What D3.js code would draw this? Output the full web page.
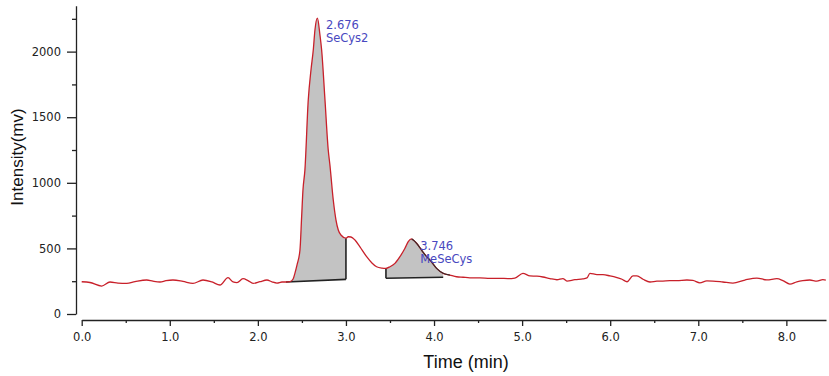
<!DOCTYPE html>
<html>
<head>
<meta charset="utf-8">
<script src="https://cdn.jsdelivr.net/npm/d3@7"></script>
<style>
  body { margin: 0; background: #fff; }
  svg { display: block; }
</style>
</head>
<body>
<div id="chart"></div>
<script>
// Chromatogram trace (time in min, intensity in mV)
const timeMin = [
  0.000, 0.094, 0.227, 0.321, 0.412, 0.511, 0.605, 0.738, 0.809, 0.889,
  0.957, 1.036, 1.150, 1.263, 1.377, 1.479, 1.570, 1.661, 1.718, 1.763,
  1.831, 1.888, 1.945, 2.024, 2.103, 2.160, 2.217, 2.274, 2.319, 2.364,
  2.400, 2.421, 2.444, 2.478, 2.497, 2.512, 2.534, 2.572, 2.603, 2.629,
  2.648, 2.676, 2.705, 2.724, 2.762, 2.799, 2.818, 2.856, 2.887, 2.913,
  2.943, 3.000, 3.026, 3.057, 3.102, 3.159, 3.235, 3.295, 3.348, 3.409,
  3.454, 3.499, 3.556, 3.613, 3.670, 3.707, 3.746, 3.764, 3.802, 3.840,
  3.877, 3.916, 3.953, 4.029, 4.104, 4.180, 4.256, 4.330, 4.407, 4.521,
  4.634, 4.748, 4.839, 4.918, 5.009, 5.089, 5.168, 5.236, 5.316, 5.395,
  5.463, 5.509, 5.599, 5.690, 5.736, 5.770, 5.850, 5.918, 5.998, 6.077,
  6.134, 6.191, 6.258, 6.304, 6.372, 6.452, 6.531, 6.598, 6.678, 6.757,
  6.871, 6.939, 7.018, 7.097, 7.166, 7.279, 7.393, 7.529, 7.665, 7.779,
  7.892, 7.960, 8.040, 8.119, 8.187, 8.266, 8.346, 8.414, 8.448
];
const intensity = [
  246, 240, 213, 244, 236, 233, 246, 259, 250, 244,
  254, 259, 248, 233, 259, 244, 221, 277, 244, 239,
  269, 255, 233, 246, 259, 245, 236, 244, 244, 246,
  267, 312, 373, 488, 742, 945, 1097, 1631, 1860, 2012,
  2165, 2255, 2126, 2012, 1631, 1250, 1136, 869, 716, 640,
  602, 578, 589, 587, 564, 511, 437, 389, 360, 350,
  348, 360, 386, 437, 501, 551, 572, 564, 539, 505,
  470, 437, 412, 348, 310, 297, 284, 280, 276, 276,
  272, 272, 270, 274, 310, 290, 288, 282, 270, 261,
  270, 251, 262, 267, 275, 310, 300, 300, 290, 277,
  265, 246, 290, 290, 265, 244, 250, 251, 254, 254,
  259, 256, 238, 252, 251, 244, 236, 259, 274, 260,
  269, 255, 228, 245, 254, 259, 251, 262, 259
];

// Identified peaks
const peakTimes = [2.676, 3.746];
const peakHeights = [2255, 572];
const peakNames = ["SeCys2", "MeSeCys"];

// Integration windows: start/end time and baseline level at each end
const integStart = [2.319, 3.454];
const integEnd = [3.000, 4.104];
const baseStart = [244, 272];
const baseEnd = [264, 280];

// Axis ticks
const xMajorTicks = [0, 1, 2, 3, 4, 5, 6, 7, 8];
const xMinorTicks = [0.5, 1.5, 2.5, 3.5, 4.5, 5.5, 6.5, 7.5];
const yMajorTicks = [0, 500, 1000, 1500, 2000];
const yMinorTicks = [250, 750, 1250, 1750, 2250];

const width = 829;
const height = 376;

const trace = timeMin.map((t, i) => ({ t: t, v: intensity[i] }));

const svg = d3.select("#chart")
    .append("svg")
    .attr("width", width)
    .attr("height", height)
    .style("background", "#fff");

// Scales
const x = d3.scaleLinear().domain([0, 8.45]).range([81.7, 826]);
const y = d3.scaleLinear().domain([0, 2350]).range([314, 5.7]);

const tickFont = "'DejaVu Sans', Verdana, sans-serif";
const axisColor = "#222";

// Y axis (its own line at x=76)
const yAxis = svg.append("g")
    .attr("transform", "translate(76,0)")
    .call(d3.axisLeft(y).tickValues(yMajorTicks).tickSize(9).tickSizeOuter(0).tickPadding(6)
        .tickFormat(d3.format("d")));
yAxis.append("g")
    .call(d3.axisLeft(y).tickValues(yMinorTicks).tickSize(4).tickFormat(""))
    .select(".domain").remove();

// X axis (separate line below at y=320)
const xAxis = svg.append("g")
    .attr("transform", "translate(0,320)")
    .call(d3.axisBottom(x).tickValues(xMajorTicks).tickSize(6).tickSizeOuter(0).tickPadding(7)
        .tickFormat(d3.format(".1f")));
xAxis.append("g")
    .call(d3.axisBottom(x).tickValues(xMinorTicks).tickSize(3).tickFormat(""))
    .select(".domain").remove();

[xAxis, yAxis].forEach(a => {
    a.selectAll(".domain, .tick line").attr("stroke", axisColor).attr("stroke-width", 1.3);
    a.selectAll("text")
        .style("font-family", tickFont)
        .style("font-size", "11.5px")
        .style("fill", "#222");
});

// Axis titles
svg.append("text")
    .attr("x", 466)
    .attr("y", 368)
    .attr("text-anchor", "middle")
    .style("font-family", "'Liberation Sans', Arial, sans-serif")
    .style("font-size", "18px")
    .style("fill", "#111")
    .text("Time (min)");

svg.append("text")
    .attr("transform", "translate(23,157) rotate(-90)")
    .attr("text-anchor", "middle")
    .style("font-family", "'Liberation Sans', Arial, sans-serif")
    .style("font-size", "17px")
    .style("fill", "#111")
    .text("Intensity(mv)");

// Integrated peak areas (grey), with black baseline and drop line
peakTimes.forEach((pt, i) => {
    const base = d3.scaleLinear()
        .domain([integStart[i], integEnd[i]])
        .range([baseStart[i], baseEnd[i]]);
    const seg = trace.filter(d => d.t >= integStart[i] && d.t <= integEnd[i]);

    svg.append("path")
        .datum(seg)
        .attr("fill", "#c3c3c3")
        .attr("d", d3.area()
            .x(d => x(d.t))
            .y0(d => y(base(d.t)))
            .y1(d => y(d.v))
            .curve(d3.curveMonotoneX));

    svg.append("line")
        .attr("x1", x(integStart[i])).attr("y1", y(baseStart[i]))
        .attr("x2", x(integEnd[i])).attr("y2", y(baseEnd[i]))
        .attr("stroke", "#222").attr("stroke-width", 1.6);

    // drop line at the open side of the window
    const dropT = i === 0 ? integEnd[i] : integStart[i];
    const dropBase = i === 0 ? baseEnd[i] : baseStart[i];
    const dropV = seg[i === 0 ? seg.length - 1 : 0].v;
    svg.append("line")
        .attr("x1", x(dropT)).attr("y1", y(dropBase))
        .attr("x2", x(dropT)).attr("y2", y(dropV))
        .attr("stroke", "#222").attr("stroke-width", 1.6);
});

// Signal trace
const line = d3.line()
    .x(d => x(d.t))
    .y(d => y(d.v))
    .curve(d3.curveMonotoneX);

svg.append("path")
    .datum(trace)
    .attr("fill", "none")
    .attr("stroke", "#c8202a")
    .attr("stroke-width", 1.3)
    .attr("d", line);

// dark outline on the tail of the second peak
svg.append("path")
    .datum(trace.filter(d => d.t >= 3.746 && d.t <= 4.18))
    .attr("fill", "none")
    .attr("stroke", "#3a2a2a")
    .attr("stroke-width", 1.2)
    .attr("d", line);

// Peak labels (retention time + compound), two stacked texts each
peakTimes.forEach((pt, i) => {
    const lx = x(pt) + 8.5;
    const ly = y(peakHeights[i]) + 11;
    [pt.toFixed(3), peakNames[i]].forEach((s, k) => {
        svg.append("text")
            .attr("x", lx)
            .attr("y", ly + k * 13)
            .style("font-family", tickFont)
            .style("font-size", "11.5px")
            .style("fill", "#4848c0")
            .text(s);
    });
});
</script>
</body>
</html>
